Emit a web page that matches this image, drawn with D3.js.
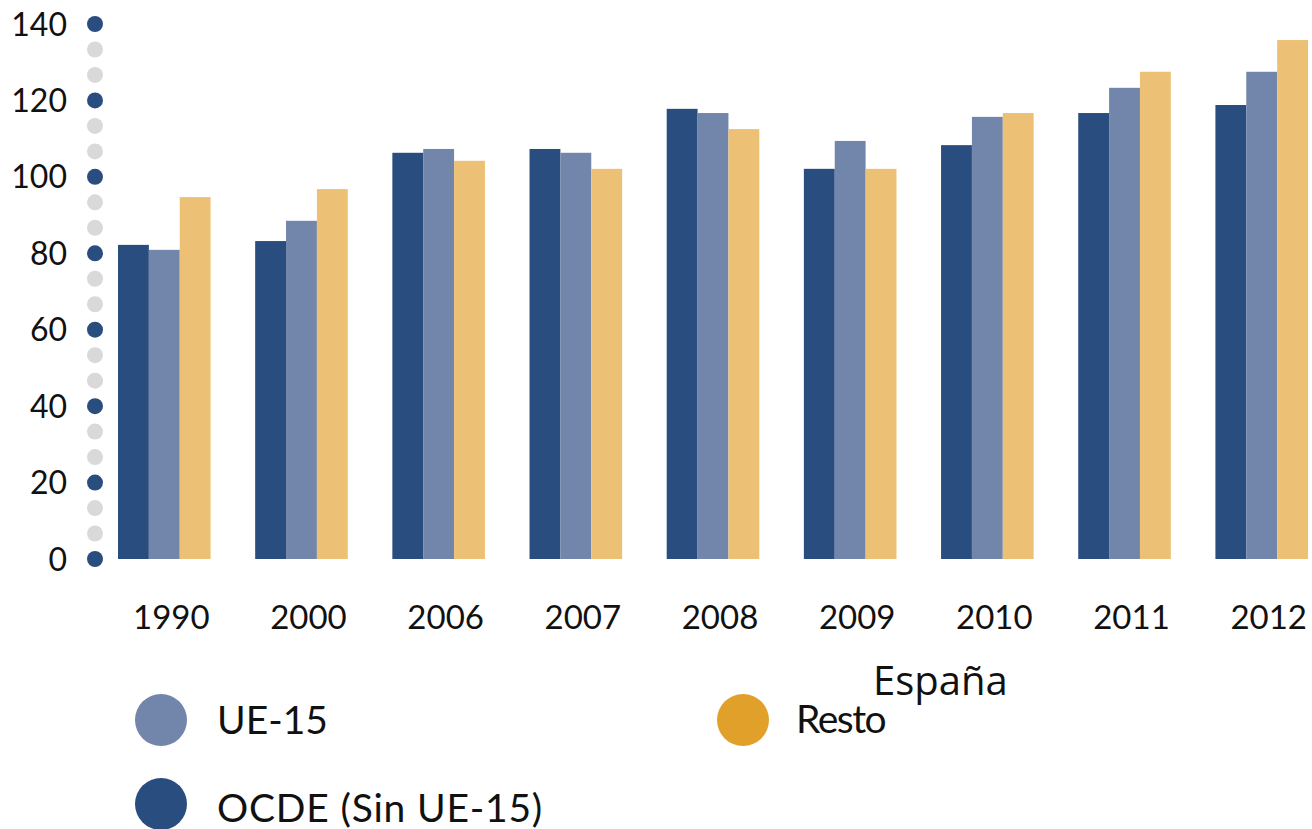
<!DOCTYPE html>
<html>
<head>
<meta charset="utf-8">
<script src="https://cdn.jsdelivr.net/npm/d3@7"></script>
<style>
  html, body { margin: 0; padding: 0; background: #fff; }
  svg { display: block; }
</style>
</head>
<body>
<div id="chart"></div>
<script>
// Data
const years = ['1990', '2000', '2006', '2007', '2008', '2009', '2010', '2011', '2012'];
const seriesNames = ['OCDE (Sin UE-15)', 'UE-15', 'Resto'];
const ocde = [82.2, 83.2, 106.3, 107.3, 117.8, 102.1, 108.3, 116.7, 118.8];
const ue15 = [80.9, 88.5, 107.3, 106.3, 116.7, 109.4, 115.7, 123.3, 127.5];
const resto = [94.7, 96.8, 104.2, 102.1, 112.5, 102.1, 116.7, 127.5, 135.8];
const yTicks = [0, 20, 40, 60, 80, 100, 120, 140];

const width = 1312, height = 829;
const barColors = ['#2a4d7f', '#7285ab', '#ecc175'];
const legendColors = { 'UE-15': '#7285ab', 'Resto': '#e0a02a', 'OCDE (Sin UE-15)': '#2a4d7f' };
const font = 'Lato, "Open Sans", sans-serif';

const svg = d3.select('#chart').append('svg')
  .attr('width', width)
  .attr('height', height);

// Scales
const y = d3.scaleLinear().domain([0, 140]).range([559, 24]);
const x0 = d3.scaleBand().domain(years).range([118, 1308]).paddingInner(0.325).paddingOuter(0);
const x1 = d3.scaleBand().domain(seriesNames).range([0, x0.bandwidth()]);

// --- Dotted y axis: blue dot at each tick, two grey dots between ---
const dotValues = d3.range(0, 21 * 20 / 3 + 0.01, 20 / 3);
svg.append('g').selectAll('circle')
  .data(dotValues)
  .join('circle')
  .attr('cx', 95)
  .attr('cy', d => y(d))
  .attr('r', 8)
  .attr('fill', d => Math.abs(d / 20 - Math.round(d / 20)) < 0.01 ? '#2a4d7f' : '#d9d9d9');

svg.append('g').selectAll('text')
  .data(yTicks)
  .join('text')
  .attr('x', 67)
  .attr('y', d => y(d))
  .attr('dy', '0.36em')
  .attr('text-anchor', 'end')
  .attr('font-family', font)
  .attr('font-size', 32)
  .attr('fill', '#111')
  .text(d => d);

// --- Bars ---
const groups = svg.append('g').selectAll('g')
  .data(years.map((yr, i) => ({ year: yr, values: [ocde[i], ue15[i], resto[i]] })))
  .join('g')
  .attr('transform', d => `translate(${x0(d.year)},0)`);

groups.selectAll('rect')
  .data(d => d.values.map((v, j) => ({ key: seriesNames[j], value: v, idx: j })))
  .join('rect')
  .attr('x', d => x1(d.key))
  .attr('y', d => y(d.value))
  .attr('width', x1.bandwidth())
  .attr('height', d => y(0) - y(d.value))
  .attr('fill', d => barColors[d.idx]);

// Year labels (sit a little right of the group centre)
svg.append('g').selectAll('text')
  .data(years)
  .join('text')
  .attr('x', d => x0(d) + x0.bandwidth() / 2 + 7)
  .attr('y', 629)
  .attr('text-anchor', 'middle')
  .attr('font-family', font)
  .attr('font-size', 33)
  .attr('fill', '#111')
  .text(d => d);

// Subtitle
svg.append('text')
  .attr('x', 873)
  .attr('y', 695)
  .attr('font-family', '"Open Sans", sans-serif')
  .attr('font-size', 40)
  .attr('fill', '#111')
  .text('España');

// --- Legend ---
const legendItems = [
  { name: 'UE-15', cx: 161, cy: 720, tx: 217, ty: 734, ls: 0 },
  { name: 'Resto', cx: 743, cy: 720, tx: 796, ty: 733, ls: -1.5 },
  { name: 'OCDE (Sin UE-15)', cx: 161, cy: 804, tx: 217, ty: 822, ls: 0.8 }
];
const legend = svg.append('g').selectAll('g')
  .data(legendItems)
  .join('g');

legend.append('ellipse')
  .attr('cx', d => d.cx)
  .attr('cy', d => d.cy)
  .attr('rx', 26)
  .attr('ry', 26)
  .attr('fill', d => legendColors[d.name]);

legend.append('text')
  .attr('x', d => d.tx)
  .attr('y', d => d.ty)
  .attr('font-family', font)
  .attr('font-size', 39)
  .attr('letter-spacing', d => d.ls)
  .attr('fill', '#111')
  .text(d => d.name);
</script>
</body>
</html>
